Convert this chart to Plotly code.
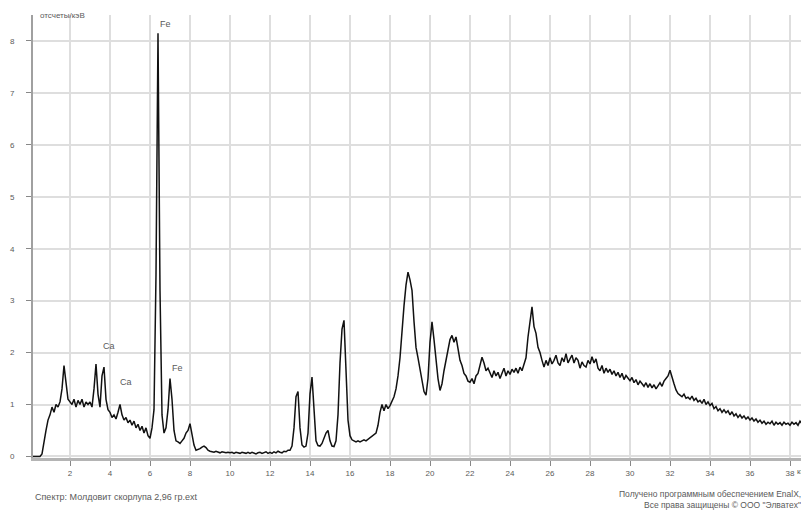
import plotly.graph_objects as go

# Spectrum counts, one row per keV (0.1 keV steps: k.0 .. k.9)
counts_rows = [
    [0.0, 0.0, 0.0, 0.0, 0.0, 0.0, 0.05, 0.3, 0.5, 0.7],            # 0
    [0.8, 0.95, 0.85, 1.0, 0.95, 1.05, 1.3, 1.75, 1.4, 1.1],        # 1
    [1.05, 1.0, 1.1, 0.95, 1.08, 1.0, 1.1, 0.95, 1.05, 1.0],        # 2
    [1.05, 0.95, 1.3, 1.78, 1.2, 0.95, 1.55, 1.72, 1.1, 0.9],       # 3
    [0.85, 0.75, 0.8, 0.72, 0.85, 1.0, 0.8, 0.7, 0.75, 0.65],       # 4
    [0.7, 0.6, 0.68, 0.55, 0.62, 0.5, 0.58, 0.45, 0.55, 0.4],       # 5
    [0.35, 0.55, 0.9, 3.5, 8.15, 3.2, 0.8, 0.45, 0.55, 0.9],        # 6
    [1.5, 1.1, 0.5, 0.3, 0.28, 0.25, 0.3, 0.35, 0.45, 0.5],         # 7
    [0.63, 0.45, 0.22, 0.12, 0.13, 0.15, 0.18, 0.2, 0.17, 0.12],    # 8
    [0.1, 0.09, 0.08, 0.1, 0.08, 0.07, 0.09, 0.08, 0.07, 0.08],     # 9
    [0.07, 0.08, 0.06, 0.08, 0.07, 0.06, 0.08, 0.07, 0.06, 0.08],   # 10
    [0.06, 0.08, 0.07, 0.05, 0.07, 0.08, 0.06, 0.07, 0.09, 0.06],   # 11
    [0.08, 0.06, 0.09, 0.07, 0.1, 0.08, 0.07, 0.1, 0.09, 0.12],     # 12
    [0.12, 0.2, 0.55, 1.15, 1.25, 0.55, 0.22, 0.18, 0.2, 0.45],     # 13
    [1.2, 1.53, 0.8, 0.3, 0.21, 0.2, 0.25, 0.35, 0.45, 0.5],        # 14
    [0.3, 0.2, 0.19, 0.3, 0.8, 1.8, 2.45, 2.62, 1.6, 0.7],          # 15
    [0.4, 0.32, 0.3, 0.28, 0.3, 0.28, 0.3, 0.32, 0.3, 0.33],        # 16
    [0.35, 0.38, 0.42, 0.45, 0.6, 0.85, 1.0, 0.88, 1.0, 0.92],      # 17
    [0.98, 1.05, 1.15, 1.3, 1.55, 1.9, 2.5, 2.9, 3.3, 3.55],        # 18
    [3.4, 3.2, 2.6, 2.1, 1.9, 1.66, 1.45, 1.25, 1.18, 1.5],         # 19
    [2.2, 2.59, 2.25, 1.85, 1.5, 1.27, 1.4, 1.65, 1.85, 2.1],       # 20
    [2.25, 2.33, 2.2, 2.3, 2.1, 1.85, 1.75, 1.6, 1.55, 1.45],       # 21
    [1.43, 1.5, 1.4, 1.55, 1.6, 1.75, 1.91, 1.8, 1.65, 1.7],        # 22
    [1.6, 1.52, 1.65, 1.55, 1.62, 1.5, 1.6, 1.7, 1.55, 1.65],       # 23
    [1.58, 1.68, 1.62, 1.7, 1.6, 1.72, 1.65, 1.79, 1.9, 2.3],       # 24
    [2.6, 2.88, 2.5, 2.37, 2.1, 2.0, 1.85, 1.72, 1.85, 1.75],       # 25
    [1.9, 1.78, 1.85, 1.95, 1.8, 1.75, 1.9, 1.82, 1.98, 1.8],       # 26
    [1.88, 1.95, 1.8, 1.9, 1.85, 1.7, 1.82, 1.75, 1.72, 1.85],      # 27
    [1.78, 1.92, 1.8, 1.88, 1.7, 1.65, 1.75, 1.6, 1.7, 1.62],       # 28
    [1.68, 1.58, 1.65, 1.55, 1.62, 1.52, 1.6, 1.48, 1.56, 1.5],     # 29
    [1.46, 1.52, 1.42, 1.48, 1.38, 1.45, 1.4, 1.35, 1.42, 1.33],    # 30
    [1.4, 1.32, 1.38, 1.3, 1.36, 1.42, 1.35, 1.45, 1.5, 1.55],      # 31
    [1.66, 1.55, 1.4, 1.28, 1.21, 1.18, 1.15, 1.2, 1.12, 1.14],     # 32
    [1.1, 1.16, 1.08, 1.12, 1.05, 1.08, 1.02, 1.1, 1.0, 1.05],      # 33
    [0.98, 1.02, 0.92, 0.96, 0.88, 0.92, 0.85, 0.9, 0.84, 0.88],    # 34
    [0.8, 0.86, 0.78, 0.82, 0.75, 0.8, 0.74, 0.78, 0.72, 0.76],     # 35
    [0.7, 0.74, 0.68, 0.72, 0.66, 0.7, 0.64, 0.68, 0.62, 0.66],     # 36
    [0.63, 0.68, 0.6, 0.66, 0.62, 0.65, 0.6, 0.66, 0.62, 0.64],     # 37
    [0.6, 0.66, 0.62, 0.65, 0.6, 0.68, 0.63, 0.66, 0.64],           # 38
]

x_tick_values = [2, 4, 6, 8, 10, 12, 14, 16, 18, 20, 22, 24, 26, 28, 30, 32, 34, 36, 38]
x_tick_labels = [str(v) for v in x_tick_values]
y_tick_values = [0, 1, 2, 3, 4, 5, 6, 7, 8]

peak_labels = ["Fe", "Fe", "Ca", "Ca"]
peak_x = [6.75, 7.38, 3.93, 4.8]
peak_y = [8.32, 1.71, 2.12, 1.43]

energies = []
counts = []
for k, row in enumerate(counts_rows):
    for j, v in enumerate(row):
        energies.append(round(k + 0.1 * j, 2))
        counts.append(v)

FONT = "Liberation Sans, Arial, sans-serif"
GREY = "#5a5a5a"

fig = go.Figure()
fig.add_trace(go.Scatter(x=energies, y=counts, mode="lines",
                         line=dict(color="#111111", width=1.5),
                         hoverinfo="skip", showlegend=False))

for t, px, py in zip(peak_labels, peak_x, peak_y):
    fig.add_annotation(x=px, y=py, text=t, showarrow=False,
                       font=dict(family=FONT, size=9, color=GREY))

fig.add_annotation(xref="paper", yref="paper", x=0.006, y=1.0, xanchor="left", yanchor="middle",
                   text="отсчеты/кэВ", showarrow=False,
                   font=dict(family=FONT, size=8, color=GREY))
fig.add_annotation(xref="paper", yref="paper", x=1.0, y=0.0, xanchor="left", yanchor="top",
                   xshift=-11, yshift=-7,
                   text="кэВ", showarrow=False,
                   font=dict(family=FONT, size=8, color=GREY))
fig.add_annotation(xref="paper", yref="paper", x=0.0, y=0.0, xanchor="left", yanchor="middle",
                   yshift=-39,
                   text="Спектр: Молдовит скорлупа 2,96 гр.ext", showarrow=False,
                   font=dict(family=FONT, size=9, color=GREY))
fig.add_annotation(xref="paper", yref="paper", x=1.0, y=0.0, xanchor="right", yanchor="middle",
                   yshift=-36, xshift=-3, align="right",
                   text="Получено программным обеспечением EnalX,", showarrow=False,
                   font=dict(family=FONT, size=8.5, color=GREY))
fig.add_annotation(xref="paper", yref="paper", x=1.0, y=0.0, xanchor="right", yanchor="middle",
                   yshift=-47, xshift=-3, align="right",
                   text="Все права защищены © ООО \"Элватех\"", showarrow=False,
                   font=dict(family=FONT, size=8.5, color=GREY))

# page body adds an 8 px margin, so the figure is sized to fill the rest of the window
fig.update_layout(
    width=801, height=506,
    margin=dict(l=25, r=3, t=7, b=56),
    paper_bgcolor="white", plot_bgcolor="white",
    font=dict(family=FONT, size=8, color=GREY),
    xaxis=dict(range=[0.15, 38.8], tickmode="array", tickvals=x_tick_values,
               ticktext=x_tick_labels, showgrid=True, gridcolor="#dedede", gridwidth=1.5,
               showline=True, linecolor="#b4b4b4", linewidth=3,
               ticks="outside", ticklen=5, tickcolor="#888888", tickwidth=1,
               zeroline=False, tickfont=dict(size=8, color=GREY)),
    yaxis=dict(range=[-0.03, 8.5], tickmode="array", tickvals=y_tick_values,
               showgrid=True, gridcolor="#dedede", gridwidth=1.5,
               showline=True, linecolor="#a0a0a0", linewidth=2,
               ticks="outside", ticklen=5, tickcolor="#888888", tickwidth=1,
               ticklabelstandoff=10,
               zeroline=False, tickfont=dict(size=8, color=GREY)),
)

fig.write_html("out.html")
